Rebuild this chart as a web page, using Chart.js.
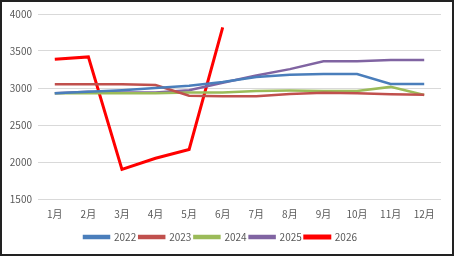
<!DOCTYPE html>
<html>
<head>
<meta charset="utf-8">
<script src="https://cdn.jsdelivr.net/npm/chart.js@4"></script>
<style>
  body { margin: 0; background: #fff; }
  #wrap { position: relative; width: 454px; height: 256px; }
</style>
</head>
<body>
<div id="wrap"><canvas id="chart" width="454" height="256"></canvas></div>
<script>
// months on the x axis
let months = ['1月', '2月', '3月', '4月', '5月', '6月', '7月', '8月', '9月', '10月', '11月', '12月'];

// yearly series
let y2022 = [2930, 2950, 2970, 3000, 3030, 3080, 3150, 3180, 3190, 3190, 3055, 3055];
let y2023 = [3050, 3050, 3050, 3040, 2895, 2890, 2890, 2920, 2935, 2930, 2915, 2910];
let y2024 = [2930, 2930, 2930, 2930, 2940, 2940, 2960, 2965, 2960, 2960, 3015, 2905];
let y2025 = [2930, 2950, 2940, 2940, 2970, 3070, 3170, 3255, 3360, 3360, 3380, 3380];
let y2026 = [3390, 3420, 1900, 2050, 2170, 3820];

let yearLabels = ['2022', '2023', '2024', '2025', '2026'];
let lineColors = ['#4a7ebb', '#c0504d', '#9bbb59', '#8064a2', '#ff0000'];

const frame = {
  id: 'frame',
  beforeDraw(chart) {
    const ctx = chart.ctx;
    ctx.save();
    ctx.fillStyle = '#fff';
    ctx.fillRect(0, 0, chart.width, chart.height);
    ctx.strokeStyle = '#222';
    ctx.lineWidth = 2;
    ctx.strokeRect(1, 1, chart.width - 2, chart.height - 2);
    ctx.restore();
  }
};

let makeSet = (i, data, width) => ({
  label: yearLabels[i],
  data: data,
  borderColor: lineColors[i],
  backgroundColor: lineColors[i],
  borderWidth: width,
  pointRadius: 0,
  tension: 0,
  fill: false
});

new Chart(document.getElementById('chart'), {
  type: 'line',
  data: {
    labels: months,
    datasets: [
      makeSet(0, y2022, 2.5),
      makeSet(1, y2023, 2.5),
      makeSet(2, y2024, 2.5),
      makeSet(3, y2025, 2.5),
      makeSet(4, y2026, 3)
    ]
  },
  options: {
    responsive: false,
    animation: false,
    layout: { padding: { top: 14, right: 13, left: 0, bottom: 4 } },
    plugins: {
      legend: {
        position: 'bottom',
        labels: {
          boxWidth: 25,
          boxHeight: 2,
          padding: 3,
          color: '#595959',
          font: { family: 'Noto Sans CJK SC', size: 10 }
        }
      },
      tooltip: { enabled: false }
    },
    scales: {
      x: {
        offset: true,
        grid: { display: false, drawTicks: false },
        border: { display: false },
        ticks: {
          color: '#595959',
          padding: 9,
          maxRotation: 0,
          font: { family: 'Noto Sans CJK SC', size: 10 }
        }
      },
      y: {
        min: 1500,
        max: 4000,
        afterFit(scale) { scale.width = 38; },
        grid: { color: '#d9d9d9', drawTicks: false },
        border: { display: false },
        ticks: {
          stepSize: 500,
          color: '#595959',
          padding: 6,
          callback: (v) => String(v),
          font: { family: 'Noto Sans CJK SC', size: 10 }
        }
      }
    }
  },
  plugins: [frame]
});
</script>
</body>
</html>
